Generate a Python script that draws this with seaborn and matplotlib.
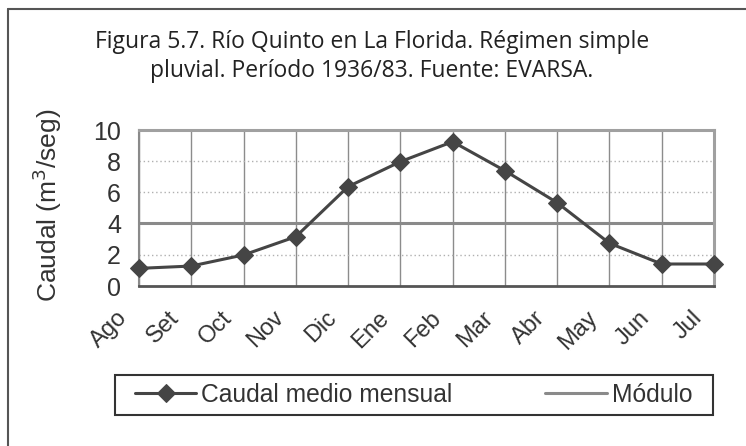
import numpy as np
import pandas as pd
import seaborn as sns
import matplotlib
matplotlib.use('Agg')
import matplotlib.pyplot as plt
import matplotlib.transforms as mtransforms
from matplotlib.lines import Line2D
from matplotlib.patches import Rectangle

# data
meses = ['Ago', 'Set', 'Oct', 'Nov', 'Dic', 'Ene', 'Feb', 'Mar', 'Abr', 'May', 'Jun', 'Jul']
caudal = [1.13, 1.28, 1.99, 3.16, 6.37, 7.97, 9.25, 7.39, 5.34, 2.74, 1.41, 1.41]
modulo = 4.05
titulo = 'Figura 5.7. Río Quinto en La Florida. Régimen simple\npluvial. Período 1936/83. Fuente: EVARSA.'

sns.set_style('white')
plt.rcParams['font.family'] = ['Liberation Sans', 'DejaVu Sans']

df = pd.DataFrame({'mes': meses, 'caudal': caudal})
df['pos'] = np.arange(len(meses))

fig = plt.figure(figsize=(7.46, 4.46), dpi=100)
ax = fig.add_axes([139/746, 1-286/446, (714-139)/746, (286-130)/446])

# grid
for i in range(len(meses)):
    ax.axvline(i, color='#8c8c8c', lw=1.0, zorder=1)
for v in [2, 6, 8]:
    ax.axhline(v, color='#b0b0b0', lw=1.0, ls=(0, (1, 2)), zorder=1)

ax.axhline(modulo, color='#8a8a8a', lw=2.2, zorder=2, label='Módulo')
sns.lineplot(data=df, x='pos', y='caudal', ax=ax, color='#454545', lw=2.2,
             marker='D', markersize=9.5, markeredgecolor='#454545',
             label='Caudal medio mensual', zorder=3, clip_on=False)

ax.set_xlim(0, len(meses)-1)
ax.set_ylim(0, 10)
ax.set_yticks(range(0, 11, 2))
ax.set_xticks(range(len(meses)))
ax.set_xticklabels(meses, rotation=45, ha='right', rotation_mode='anchor')
ax.set_xlabel('')
ax.set_ylabel('Caudal (m$^3$/seg)', fontsize=19, color='#333333')
ax.yaxis.set_label_coords((64-139)/575, (286-205)/156)

ax.tick_params(axis='y', direction='out', length=6, width=1, color='#777777',
               labelsize=18, labelcolor='#333333', pad=7)
ax.tick_params(axis='x', direction='out', length=6, width=1, color='#777777',
               labelsize=17, labelcolor='#333333', pad=9)
shift = mtransforms.ScaledTranslation(-23/100, 0, fig.dpi_scale_trans)
for t in ax.xaxis.get_major_ticks():
    t.label1.set_transform(t.label1.get_transform() + shift)

for s in ['top', 'right']:
    ax.spines[s].set_color('#a0a0a0')
    ax.spines[s].set_linewidth(2.2)
ax.spines['left'].set_color('#8a8a8a')
ax.spines['left'].set_linewidth(1.5)
ax.spines['bottom'].set_color('#555555')
ax.spines['bottom'].set_linewidth(2)

h, l = ax.get_legend_handles_labels()
order = [l.index('Caudal medio mensual'), l.index('Módulo')]
ax.get_legend().remove()
leg = fig.legend([h[i] for i in order], [l[i] for i in order],
                 loc='center left', ncol=2, mode='expand',
                 bbox_to_anchor=(135/746, 1-415/446, (692-135)/746, 40/446),
                 fontsize=17.7, frameon=False, handlelength=2.5,
                 handletextpad=0.2, borderaxespad=0, borderpad=0)
for t in leg.get_texts():
    t.set_color('#333333')
fig.add_artist(Rectangle((115/746, 1-415/446), (713-115)/746, 40/446,
                         transform=fig.transFigure, fill=False,
                         edgecolor='#333333', lw=1.5))

fig.text(372/746, 1-30/446, titulo, ha='center', va='top', fontsize=16.5,
         color='#222222', linespacing=1.3,
         family=['Open Sans', 'DejaVu Sans'])

# outer frame (top and left edges)
fig.add_artist(Line2D([8/746, 1.0], [1-8.5/446, 1-8.5/446], color='#555555', lw=1.5))
fig.add_artist(Line2D([8/746, 8/746], [0, 1-8.5/446], color='#555555', lw=1.5))

fig.savefig('out.png', dpi=100)
